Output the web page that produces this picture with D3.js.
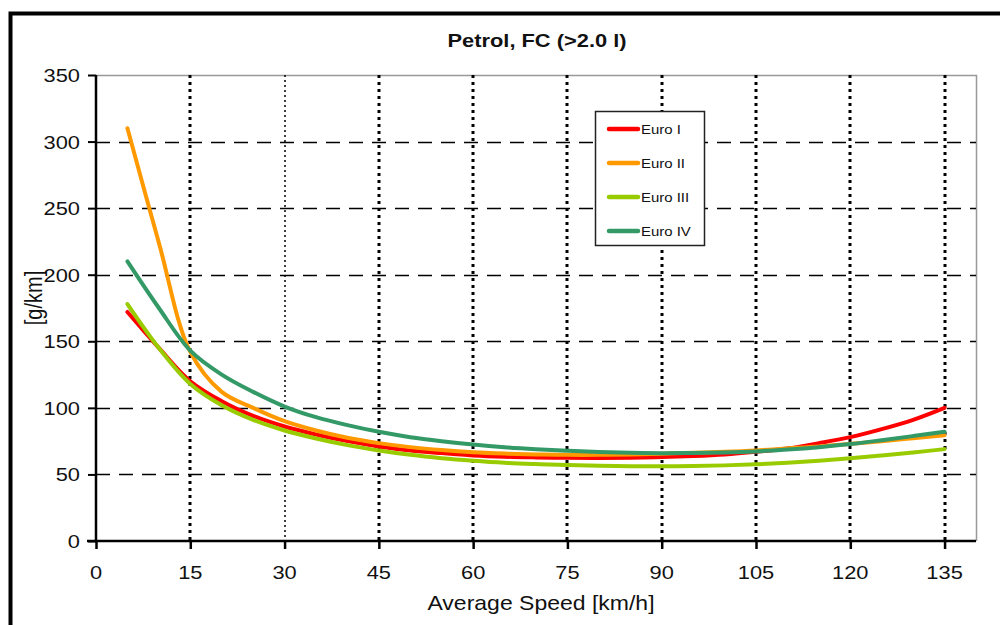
<!DOCTYPE html>
<html>
<head>
<meta charset="utf-8">
<script src="https://cdn.jsdelivr.net/npm/d3@7"></script>
<style>
  html, body { margin: 0; padding: 0; background: #fff; }
  svg { display: block; font-family: "Liberation Sans", Arial, sans-serif; }
</style>
</head>
<body>
<script>
'use strict';

// Speeds [km/h] at which the curves are read
var speeds = [5, 10, 15, 20, 25, 30, 35, 40, 45, 50, 55, 60, 65, 70, 75, 80, 85, 90, 95, 100, 105, 110, 115, 120, 125, 130, 135];

// Fuel consumption [g/km] per emission class
var euro1 = [172, 145, 120, 105, 94, 86, 80, 75, 71, 68, 66, 64.3, 63.3, 62.8, 62.5, 62.4, 62.5, 63, 63.8, 65, 67, 69.5, 73.5, 78, 84, 91, 100];
var euro2 = [310, 224, 142, 112, 100, 90, 83, 77.5, 73.5, 70.5, 68.3, 66.7, 65.7, 65, 64.7, 64.7, 65, 65.6, 66.3, 67, 68, 69.5, 71, 73, 75, 77.2, 79.5];
var euro3 = [178, 145, 118, 102, 91, 83, 77, 72, 68, 64.7, 62.2, 60.3, 58.8, 57.8, 57, 56.5, 56.2, 56.1, 56.3, 56.8, 57.6, 58.8, 60.3, 62.2, 64.3, 66.5, 69];
var euro4 = [210, 175, 143, 125, 112, 101, 93, 87, 82, 78, 75, 72.5, 70.5, 69, 67.8, 66.8, 66.2, 66, 66.1, 66.5, 67.3, 68.7, 70.5, 72.8, 75.7, 78.8, 82];

var seriesNames = ['Euro I', 'Euro II', 'Euro III', 'Euro IV'];
var seriesValues = [euro1, euro2, euro3, euro4];
var seriesColors = ['#ff0000', '#ff9900', '#99cc00', '#339966'];

var xTicks = [0, 15, 30, 45, 60, 75, 90, 105, 120, 135];
var yTicks = [0, 50, 100, 150, 200, 250, 300, 350];

var settings = {
    width: 1000,
    height: 625,
    left: 96,
    right: 976,
    top: 75,
    bottom: 541,
    stretch: 1.15   // glyphs in the picture are a little wider than tall
};

var svg = d3.select('body').append('svg')
    .attr('width', settings.width)
    .attr('height', settings.height);

// Outer frame of the picture
svg.append('rect')
    .attr('x', 10.5).attr('y', 13.5)
    .attr('width', 1100).attr('height', 800)
    .attr('fill', 'none')
    .attr('stroke', '#000')
    .attr('stroke-width', 4);

var x = d3.scaleLinear().domain([0, 140]).range([settings.left, settings.right]);
var y = d3.scaleLinear().domain([0, 350]).range([settings.bottom, settings.top]);

// helper for slightly widened text
function label(g, px, py, str, size, anchor, extra) {
    return g.append('text')
        .attr('transform', 'translate(' + px + ',' + py + ') scale(' + settings.stretch + ',1)' + (extra || ''))
        .attr('text-anchor', anchor)
        .attr('font-size', size + 'px')
        .attr('fill', '#111')
        .text(str);
}

// Plot border (top / right)
svg.append('path')
    .attr('d', 'M' + settings.left + ',' + (settings.top + 0.5) + 'H' + (settings.right + 0.5) + 'V' + settings.bottom)
    .attr('fill', 'none')
    .attr('stroke', '#999')
    .attr('stroke-width', 1.5);

// Horizontal dashed grid
svg.append('g').selectAll('line')
    .data(yTicks.filter(function (d) { return d > 0 && d < 350; }))
    .enter().append('line')
    .attr('x1', settings.left).attr('x2', settings.right)
    .attr('y1', function (d) { return Math.round(y(d)) + 0.5; })
    .attr('y2', function (d) { return Math.round(y(d)) + 0.5; })
    .attr('stroke', '#000')
    .attr('stroke-width', 1.5)
    .attr('stroke-dasharray', '14,9');

// Vertical dotted grid (the 30 line is a thin one)
svg.append('g').selectAll('line')
    .data(xTicks.filter(function (d) { return d > 0; }))
    .enter().append('line')
    .attr('x1', function (d) { return Math.round(x(d)); })
    .attr('x2', function (d) { return Math.round(x(d)); })
    .attr('y1', settings.top).attr('y2', settings.bottom)
    .attr('stroke', '#000')
    .attr('stroke-width', function (d) { return d === 30 ? 1.5 : 3; })
    .attr('stroke-dasharray', function (d) { return d === 30 ? '2,3' : '3,4'; });

// Axes
var xAxis = svg.append('g')
    .attr('transform', 'translate(0,' + settings.bottom + ')')
    .call(d3.axisBottom(x).tickValues(xTicks).tickSize(8).tickFormat(''));
xAxis.select('.domain').attr('d', 'M' + (settings.left - 9) + ',0H' + settings.right).attr('stroke-width', 2.5);
xAxis.selectAll('.tick line').attr('stroke-width', 2.5);

var yAxis = svg.append('g')
    .attr('transform', 'translate(' + settings.left + ',0)')
    .call(d3.axisLeft(y).tickValues(yTicks).tickSize(8).tickFormat(''));
yAxis.select('.domain').attr('d', 'M0,' + settings.top + 'V' + settings.bottom).attr('stroke-width', 2.5);
yAxis.selectAll('.tick line').attr('stroke-width', 2);

// Tick labels
var labels = svg.append('g');
xTicks.forEach(function (t) {
    label(labels, x(t), 579, t, 19, 'middle');
});
yTicks.forEach(function (t) {
    label(labels, 80, y(t) + 7, t, 19, 'end');
});

// Titles
label(svg, 537, 47, 'Petrol, FC (>2.0 l)', 19, 'middle').attr('font-weight', 'bold');
label(svg, 541, 610, 'Average Speed [km/h]', 20, 'middle');
label(svg, 42, 298, '[g/km]', 20, 'middle', ' rotate(-90)');

// Curves
var line = d3.line()
    .x(function (d) { return x(d[0]); })
    .y(function (d) { return y(d[1]); })
    .curve(d3.curveCatmullRom.alpha(0.5));

svg.append('g').selectAll('path')
    .data(seriesValues)
    .enter().append('path')
    .attr('d', function (vals) {
        return line(vals.map(function (v, i) { return [speeds[i], v]; }));
    })
    .attr('fill', 'none')
    .attr('stroke', function (d, i) { return seriesColors[i]; })
    .attr('stroke-width', 4)
    .attr('stroke-linejoin', 'round')
    .attr('stroke-linecap', 'round');

// Legend
var legend = svg.append('g');
legend.append('rect')
    .attr('x', 595.5).attr('y', 111.5)
    .attr('width', 109).attr('height', 134)
    .attr('fill', '#fff')
    .attr('stroke', '#222')
    .attr('stroke-width', 1.5);

seriesNames.forEach(function (name, i) {
    var ly = 129 + i * 34;
    legend.append('line')
        .attr('x1', 609).attr('x2', 638)
        .attr('y1', ly).attr('y2', ly)
        .attr('stroke', seriesColors[i])
        .attr('stroke-width', 4.5)
        .attr('stroke-linecap', 'round');
    label(legend, 641, ly + 5, name, 13, 'start');
});
</script>
</body>
</html>
